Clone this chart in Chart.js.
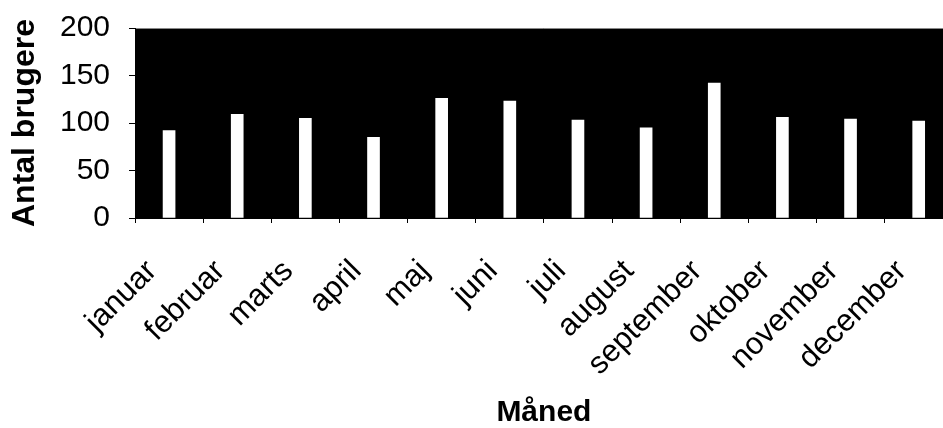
<!DOCTYPE html>
<html>
<head>
<meta charset="utf-8">
<script src="https://cdn.jsdelivr.net/npm/chart.js@4/dist/chart.umd.min.js"></script>
<style>
  html, body { margin: 0; padding: 0; background: #fff; overflow: hidden; }
  #wrap { width: 943px; height: 428px; overflow: hidden; }
  #box { width: 975px; height: 428px; }
</style>
</head>
<body>
<div id="wrap"><div id="box"><canvas id="statsChart"></canvas></div></div>
<script>
const months = ['januar','februar','marts','april','maj','juni','juli','august','september','oktober','november','december'];
const users = [92, 109, 105, 85, 126, 123, 103, 95, 142, 106, 104, 102];
const yTicks = [0, 50, 100, 150, 200];

const FONT = "'Liberation Sans', Arial, sans-serif";

// black plot background
const plotBg = {
  id: 'plotBg',
  beforeDraw(chart) {
    const a = chart.chartArea;
    const c = chart.ctx;
    c.save();
    c.fillStyle = '#000';
    c.fillRect(a.left, a.top, a.right - a.left, a.bottom - a.top);
    c.strokeStyle = '#888';
    c.lineWidth = 1;
    c.beginPath();
    c.moveTo(a.left, a.top + 0.5);
    c.lineTo(a.right, a.top + 0.5);
    c.stroke();
    c.restore();
  }
};

new Chart(document.getElementById('statsChart'), {
  type: 'bar',
  data: {
    labels: months,
    datasets: [{
      data: users,
      backgroundColor: '#fff',
      borderWidth: 0,
      barThickness: 12
    }]
  },
  options: {
    responsive: true,
    maintainAspectRatio: false,
    animation: false,
    layout: { padding: { top: 27, right: 0, left: 0, bottom: 0 } },
    plugins: { legend: { display: false }, tooltip: { enabled: false } },
    scales: {
      x: {
        afterFit: s => { s.height = 210; },
        grid: { drawOnChartArea: false, color: '#000', tickLength: 5 },
        border: { color: '#000', width: 1 },
        ticks: {
          color: '#000', autoSkip: false, minRotation: 45, maxRotation: 45,
          padding: 30, labelOffset: -17,
          font: { family: FONT, size: 31 }
        },
        title: {
          display: true, text: 'Måned', color: '#000',
          font: { family: FONT, size: 30, weight: 'bold', lineHeight: 1 },
          padding: { top: 0, bottom: 0 }
        }
      },
      y: {
        min: 0, max: 200,
        afterFit: s => { s.width = 135; },
        afterBuildTicks: s => { s.ticks = yTicks.map(v => ({ value: v })); },
        grid: { drawOnChartArea: false, color: '#000', tickLength: 6 },
        border: { color: '#000', width: 1 },
        ticks: {
          color: '#000', padding: 19,
          font: { family: FONT, size: 30, lineHeight: 0.6 }
        },
        title: {
          display: true, text: 'Antal brugere', color: '#000',
          font: { family: FONT, size: 32, weight: 'bold', lineHeight: 1 },
          padding: { top: 9, bottom: 0 }
        }
      }
    }
  },
  plugins: [plotBg]
});
</script>
</body>
</html>
